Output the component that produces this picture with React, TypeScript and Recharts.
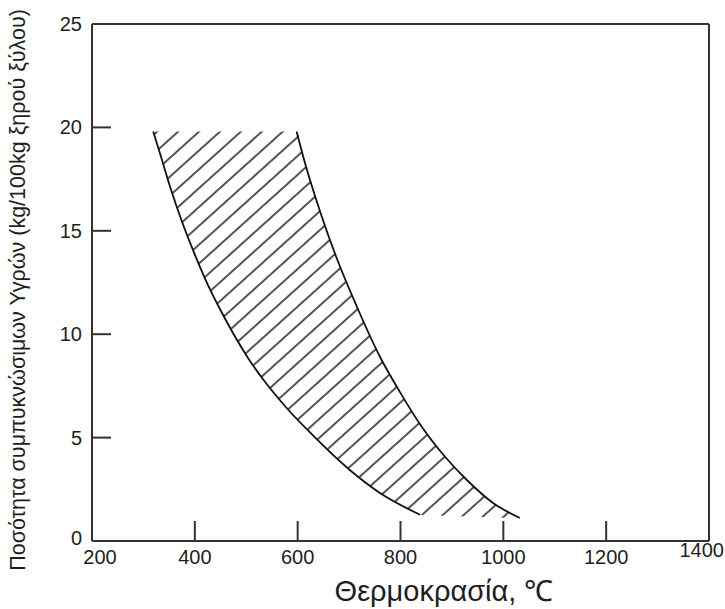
import { Area, ComposedChart, Line, ReferenceLine, XAxis, YAxis } from "recharts";

// left (lower) boundary of the condensable-liquid band
const leftTemp = [319, 332, 352, 374, 394, 420, 446, 475, 504, 536, 579, 624, 702, 760, 838];
const leftLiquid = [19.8, 18.76, 17.12, 15.51, 14.22, 12.68, 11.35, 10.02, 8.83, 7.71, 6.42, 5.25, 3.42, 2.32, 1.27];

// right (upper) boundary
const rightTemp = [598, 614, 647, 676, 718, 760, 799, 842, 887, 929, 980, 1032];
const rightLiquid = [19.8, 18.3, 15.68, 13.67, 11.17, 8.91, 7.2, 5.5, 4.06, 2.95, 1.84, 1.11];

// hatched band, low / high read at shared temperatures
const bandTemp = [319, 332, 352, 374, 394, 420, 446, 475, 504, 536, 579, 598, 614, 624, 647, 676, 702, 718, 760, 799, 838, 842, 887, 929, 980, 1032];
const bandLow = [19.8, 18.76, 17.12, 15.51, 14.22, 12.68, 11.35, 10.02, 8.83, 7.71, 6.42, 5.93, 5.51, 5.25, 4.71, 4.03, 3.42, 3.12, 2.32, 1.79, 1.27, 1.26, 1.22, 1.18, 1.14, 1.11];
const bandHigh = [19.8, 19.8, 19.8, 19.8, 19.8, 19.8, 19.8, 19.8, 19.8, 19.8, 19.8, 19.8, 18.3, 17.51, 15.68, 13.67, 12.12, 11.17, 8.91, 7.2, 5.66, 5.5, 4.06, 2.95, 1.84, 1.11];

const xTicks = [200, 400, 600, 800, 1000, 1200, 1400];
const yTicks = [0, 5, 10, 15, 20, 25];

const leftData = leftTemp.map((t, i) => ({ temp: t, liquid: leftLiquid[i] }));
const rightData = rightTemp.map((t, i) => ({ temp: t, liquid: rightLiquid[i] }));
const bandData = bandTemp.map((t, i) => ({ temp: t, band: [bandLow[i], bandHigh[i]] }));

const FONT = "'Liberation Sans', Arial, sans-serif";
const INK = "#1e1e1e";

const XTick = ({ x, y, payload }: any) => {
  const v = payload.value;
  const inner = v !== 200 && v !== 1400;
  let tx = x;
  let anchor: "middle" | "end" = "middle";
  if (v === 200) tx = x + 8;
  if (v === 1400) {
    tx = 724;
    anchor = "end";
  }
  const dy = v === 1400 ? -7 : 0;
  return (
    <g>
      {inner && <line x1={x} y1={y} x2={x} y2={y - 20} stroke="#333" strokeWidth={2} />}
      <text x={tx} y={y + 16 + dy} textAnchor={anchor} dominantBaseline="central" fontSize={20} fill={INK} fontFamily={FONT}>
        {v}
      </text>
    </g>
  );
};

const YTick = ({ x, y, payload }: any) => {
  const v = payload.value;
  const inner = v !== 0 && v !== 25;
  return (
    <g>
      {inner && <line x1={x} y1={y} x2={x + 19} y2={y} stroke="#333" strokeWidth={2} />}
      <text x={x - 10} y={v === 0 ? y - 3 : y} textAnchor="end" dominantBaseline="central" fontSize={20} fill={INK} fontFamily={FONT}>
        {v}
      </text>
    </g>
  );
};

export default function App() {
  return (
    <div style={{ position: "absolute", left: 0, top: 0, background: "#fff" }}>
      <ComposedChart width={725} height={609} margin={{ top: 24, right: 16, bottom: 0, left: 0 }}>
        <defs>
          <pattern id="hatch" patternUnits="userSpaceOnUse" width={14} height={14} patternTransform="rotate(-42)">
            <line x1={0} y1={7} x2={14} y2={7} stroke="#1a1a1a" strokeWidth={1.5} />
          </pattern>
        </defs>
        <XAxis
          dataKey="temp"
          type="number"
          domain={[200, 1400]}
          ticks={xTicks}
          interval={0}
          allowDataOverflow
          height={68}
          tickSize={0}
          tickMargin={0}
          tickLine={false}
          axisLine={{ stroke: "#333", strokeWidth: 2 }}
          tick={<XTick />}
          label={{
            content: () => (
              <text x={444} y={591} textAnchor="middle" dominantBaseline="central" fontSize={29} fill={INK} fontFamily={FONT}>
                Θερμοκρασία, ℃
              </text>
            ),
          }}
        />
        <YAxis
          type="number"
          domain={[0, 25]}
          ticks={yTicks}
          interval={0}
          allowDataOverflow
          width={92}
          tickSize={0}
          tickMargin={0}
          tickLine={false}
          axisLine={{ stroke: "#333", strokeWidth: 2 }}
          tick={<YTick />}
          label={{
            content: () => (
              <text
                x={18}
                y={290}
                transform="rotate(-90 18 290)"
                textAnchor="middle"
                dominantBaseline="central"
                fontSize={21.5}
                fill={INK}
                fontFamily={FONT}
              >
                Ποσότητα συμπυκνώσιμων Υγρών (kg/100kg ξηρού ξύλου)
              </text>
            ),
          }}
        />
        <ReferenceLine y={25} stroke="#333" strokeWidth={2} />
        <ReferenceLine x={1400} stroke="#333" strokeWidth={2} />
        <Area
          data={bandData}
          dataKey="band"
          type="monotone"
          stroke="none"
          fill="url(#hatch)"
          fillOpacity={1}
          isAnimationActive={false}
          activeDot={false}
        />
        <Line data={leftData} dataKey="liquid" type="monotone" stroke="#111" strokeWidth={1.8} dot={false} activeDot={false} isAnimationActive={false} />
        <Line data={rightData} dataKey="liquid" type="monotone" stroke="#111" strokeWidth={1.8} dot={false} activeDot={false} isAnimationActive={false} />
      </ComposedChart>
    </div>
  );
}
